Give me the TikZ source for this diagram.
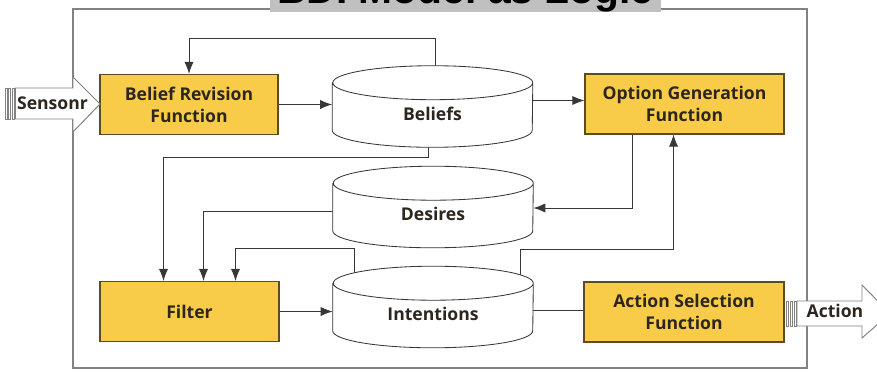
\documentclass[tikz,border=0pt]{standalone}
\usepackage{fontspec}
\setmainfont{Open Sans}
\newfontfamily\titlefont{Liberation Sans}
\usetikzlibrary{arrows.meta,calc}

\definecolor{boxfill}{RGB}{248,204,72}
\definecolor{boxline}{RGB}{95,75,35}
\definecolor{txtdark}{RGB}{45,38,30}
\definecolor{frameg}{RGB}{130,130,130}
\definecolor{titleg}{RGB}{192,192,192}
\definecolor{wire}{RGB}{55,55,55}

\pgfdeclarelayer{wires}
\pgfdeclarelayer{drums}
\pgfsetlayers{wires,drums,main}

\tikzset{
  funcbox/.style={draw=boxline, fill=boxfill, line width=0.8pt, minimum height=1.5cm,
    align=center, inner sep=0pt, text=txtdark, font=\bfseries\fontsize{12.5}{15.5}\selectfont},
  storebox/.style={minimum width=5cm, minimum height=2.025cm, inner sep=0pt,
    text height=0.675cm, text depth=0pt, text=txtdark, font=\bfseries\fontsize{12.5}{15.5}\selectfont},
  drum/.style={draw=wire, fill=white, line width=0.6pt},
  flow/.style={draw=wire, line width=0.7pt, -{Latex[length=3mm,width=2.3mm]}},
  plain/.style={draw=wire, line width=0.7pt},
  blockarrow/.style={draw=frameg, fill=white, line width=0.7pt},
}

\begin{document}
\begin{tikzpicture}[x=0.025cm, y=-0.025cm]
\path[use as bounding box, clip] (0,0) rectangle (877,371);

% outer frame and title
\draw[frameg, line width=1.4pt] (73,9) rectangle (807,368);
\fill[titleg] (270,-40) rectangle (661,11.5);
\node[anchor=base, font=\titlefont\bfseries\fontsize{29}{30}\selectfont] (title) at (465.5,3) {BDI Model as Logic};

% functions
\node[funcbox, minimum width=4.45cm] (brf) at (189,104.5) {Belief Revision\\Function};
\node[funcbox, minimum width=4.975cm] (ogf) at (684.5,104) {Option Generation\\Function};
\node[funcbox, minimum width=4.475cm] (flt) at (189.5,311.5) {Filter};
\node[funcbox, minimum width=5cm] (asf) at (684,312) {Action Selection\\Function};

% stores
\node[storebox] (bel) at (432.5,106.5) {Beliefs};
\node[storebox] (des) at (433,207) {Desires};
\node[storebox] (int) at (433,307) {Intentions};

\begin{pgfonlayer}{drums}
\foreach \n in {bel,des,int}
  \draw[drum] ($(\n.north west)+(0,17)$) -- ($(\n.south west)+(0,-17)$)
    arc[start angle=180, end angle=360, x radius=2.5cm, y radius=0.425cm]
    -- ($(\n.north east)+(0,17)$)
    arc[start angle=0, end angle=180, x radius=2.5cm, y radius=0.425cm]
    arc[start angle=180, end angle=360, x radius=2.5cm, y radius=0.425cm];
\end{pgfonlayer}

% connectors
\begin{pgfonlayer}{wires}
 \draw[flow] (brf.east) -- (brf.east -| bel.west);
 \draw[flow] ($(bel.east)+(0,-6)$) -- ($(bel.east -| ogf.west)+(0,-6)$);
 \draw[flow] ($(bel.north)+(3,10)$) -- ($(bel.north)+(3,-27)$) -| (brf.north);
 \draw[flow] ($(bel.south)+(-4,-10)$) -- ($(bel.south)+(-4,10)$) -| ($(flt.north)+(-26,0)$);
 \draw[flow] ($(des.west)+(0,4)$) -| ($(flt.north)+(14,0)$);
 \draw[flow] ($(int.north)+(-79,10)$) -- ($(int.north)+(-79,-18)$) -| ($(flt.north)+(46,0)$);
 \draw[flow] ($(ogf.south)+(-52,0)$) |- ($(des.east)+(0,1)$);
 \draw[flow] ($(int.north)+(87,10)$) -- ($(int.north)+(87,-17)$) -| ($(ogf.south)+(-11,0)$);
 \draw[flow] (flt.east) -- (flt.east -| int.west);
 \draw[plain] ($(int.east)+(0,3)$) -- ($(int.east -| asf.west)+(0,3)$);
\end{pgfonlayer}

% input and output arrows
\foreach \s in {5,8.5,12} \draw[blockarrow, line width=0.5pt] (\s,88) rectangle ++(2,31);
\draw[blockarrow] (15.5,88) -- (73,88) -- (73,77) -- (100,104) -- (73,132) -- (73,119) -- (15.5,119) -- cycle;
\node[text=txtdark, font=\bfseries\fontsize{12.5}{15.5}\selectfont] (sensor) at (52.5,103) {Sensonr};
\foreach \s in {786,790,794} \draw[blockarrow, line width=0.5pt] (\s,301) rectangle ++(2,25);
\draw[blockarrow] (797,301) -- (862,301) -- (862,285) -- (890,313.5) -- (862,338) -- (862,326) -- (797,326) -- cycle;
\node[text=txtdark, font=\bfseries\fontsize{12.5}{15.5}\selectfont] (action) at (835,311) {Action};

\end{tikzpicture}
\end{document}
